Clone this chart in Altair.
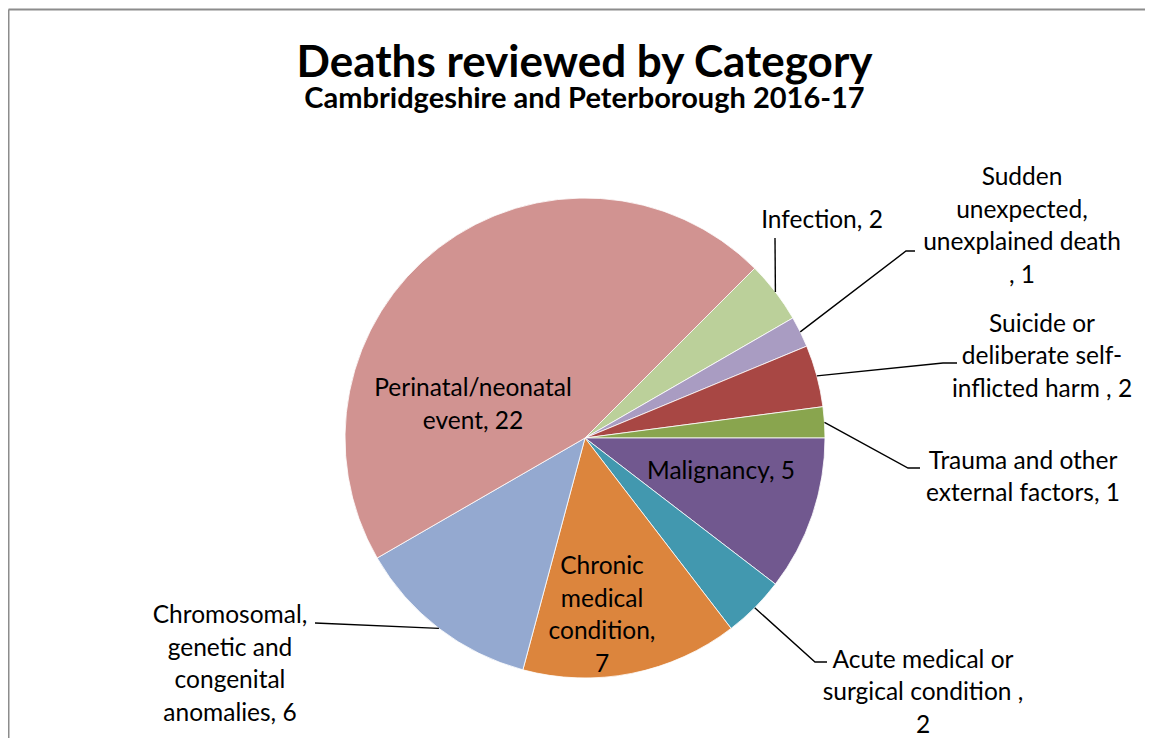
import math
import altair as alt
import pandas as pd

# ---------------- data ----------------
title_text = "Deaths reviewed by Category"
subtitle_text = "Cambridgeshire and Peterborough 2016-17"
categories = [
    "Infection",
    "Sudden unexpected, unexplained death",
    "Suicide or deliberate self-inflicted harm",
    "Trauma and other external factors",
    "Malignancy",
    "Acute medical or surgical condition",
    "Chronic medical condition",
    "Chromosomal, genetic and congenital anomalies",
    "Perinatal/neonatal event",
]
values = [2, 1, 2, 1, 5, 2, 7, 6, 22]
label_texts = [
    "Infection, 2",
    "Sudden\nunexpected,\nunexplained death\n, 1",
    "Suicide or\ndeliberate self-\ninflicted harm , 2",
    "Trauma and other\nexternal factors, 1",
    "Malignancy, 5",
    "Acute medical or\nsurgical condition ,\n2",
    "Chronic\nmedical\ncondition,\n7",
    "Chromosomal,\ngenetic and\ncongenital\nanomalies, 6",
    "Perinatal/neonatal\nevent, 22",
]
colors = ["#BBD09A", "#A99CC2", "#A84744", "#89A54E", "#71588F",
          "#4298AF", "#DC853D", "#94A9D0", "#D19391"]

# ---------------- layout ----------------
W, H = 1137, 735
CX, CY = 577, 430          # pie centre inside the view
R = 240
START_DEG = 45             # first slice angle (clockwise from 12 o'clock)
FONT = "Lato"
LABEL_SIZE = 24.5
LH = 32.5

# label block centres relative to the pie centre (pixels, y downward)
label_pos = [(237, -217.5), (437, -211), (457, -81), (438, 40), (136, 34),
             (338, 255), (17, 178), (-355, 227), (-112, -32.5)]
# leader line bend/end points relative to pie centre
leader_bends = {
    0: [(190, -200)],
    1: [(321, -187), (330, -187)],
    2: [(358, -75), (372, -75)],
    3: [(323, 30), (335, 30)],
    5: [(230, 224), (242, 224)],
    7: [(-270, 185)],
}

total = sum(values)
n_lines = [t.count("\n") + 1 for t in label_texts]
df = pd.DataFrame({
    "category": categories,
    "value": values,
    "order": list(range(len(values))),
    "label": label_texts,
    "lx": [p[0] for p in label_pos],
    # first-line position so that the whole block is centred on label_pos
    "ly": [p[1] - (n - 1) / 2 * LH for p, n in zip(label_pos, n_lines)],
})

# leader lines: start on the pie edge at the slice's mid angle
rows = []
cum = 0
for i, v in enumerate(values):
    mid = START_DEG + 360.0 * (cum + v / 2) / total
    cum += v
    if i in leader_bends:
        b = math.radians(mid)
        pts = [(R * math.sin(b), -R * math.cos(b))] + leader_bends[i]
        for j, (x, y) in enumerate(pts):
            rows.append({"category": categories[i], "idx": j, "x": x, "y": y})
leaders = pd.DataFrame(rows)

titles = pd.DataFrame({
    "text": [title_text, subtitle_text],
    "x": [-0.5, -0.5],
    "y": [-361, -330],
    "kind": ["title", "subtitle"],
})

xs = alt.Scale(domain=[-CX, W - CX], nice=False, zero=False)
ys = alt.Scale(domain=[-CY, H - CY], reverse=True, nice=False, zero=False)

start = math.radians(START_DEG)
arc = alt.Chart(df).mark_arc(outerRadius=R, stroke="white", strokeWidth=0.8).encode(
    theta=alt.Theta("value:Q", stack=True,
                    scale=alt.Scale(range=[start, start + 2 * math.pi])),
    order=alt.Order("order:Q"),
    color=alt.Color("category:N", scale=alt.Scale(domain=categories, range=colors),
                    legend=None),
    x=alt.value(CX),
    y=alt.value(CY),
)

lines = alt.Chart(leaders).mark_line(color="black", strokeWidth=1.4).encode(
    x=alt.X("x:Q", scale=xs, axis=None),
    y=alt.Y("y:Q", scale=ys, axis=None),
    detail="category:N",
    order="idx:Q",
)

labels = alt.Chart(df).mark_text(
    font=FONT, fontSize=LABEL_SIZE, lineHeight=LH, lineBreak="\n",
    align="center", baseline="middle", color="black",
).encode(
    x=alt.X("lx:Q", scale=xs, axis=None),
    y=alt.Y("ly:Q", scale=ys, axis=None),
    text="label:N",
)

title = alt.Chart(titles).transform_filter(alt.datum.kind == "title").mark_text(
    font=FONT, fontSize=44, fontWeight="bold", color="black",
    align="center", baseline="alphabetic",
).encode(
    x=alt.X("x:Q", scale=xs, axis=None),
    y=alt.Y("y:Q", scale=ys, axis=None),
    text="text:N",
)
subtitle = alt.Chart(titles).transform_filter(alt.datum.kind == "subtitle").mark_text(
    font=FONT, fontSize=29, fontWeight="bold", color="black",
    align="center", baseline="alphabetic",
).encode(
    x=alt.X("x:Q", scale=xs, axis=None),
    y=alt.Y("y:Q", scale=ys, axis=None),
    text="text:N",
)

one = pd.DataFrame({"a": [0]})
border_left = alt.Chart(one).mark_rule(color="#8C8C8C", strokeWidth=2).encode(
    x=alt.value(0.5), y=alt.value(1.5), y2=alt.value(H))
border_top = alt.Chart(one).mark_rule(color="#8C8C8C", strokeWidth=2).encode(
    x=alt.value(0.5), x2=alt.value(W), y=alt.value(1.5))

chart = alt.layer(arc, lines, labels, title, subtitle, border_left, border_top).properties(
    width=W, height=H,
    autosize="none",
    padding=0,
).configure_view(stroke=None)

chart.save("out.html", embed_options={"renderer": "svg", "actions": False})
